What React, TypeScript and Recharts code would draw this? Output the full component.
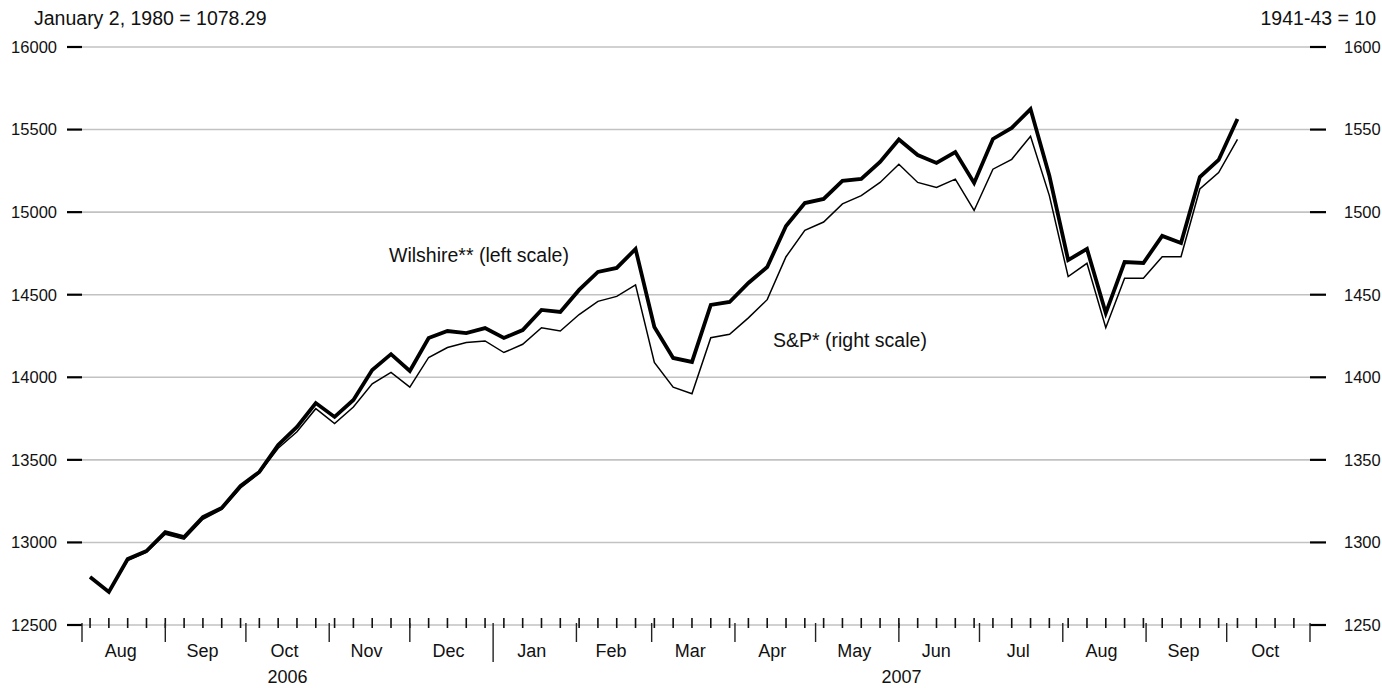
import { CartesianGrid, Line, LineChart, XAxis, YAxis } from "recharts";

// weekly readings (Fridays)
const weeks = [
  "2006-08-04", "2006-08-11", "2006-08-18", "2006-08-25",
  "2006-09-01", "2006-09-08", "2006-09-15", "2006-09-22", "2006-09-29",
  "2006-10-06", "2006-10-13", "2006-10-20", "2006-10-27",
  "2006-11-03", "2006-11-10", "2006-11-17", "2006-11-24",
  "2006-12-01", "2006-12-08", "2006-12-15", "2006-12-22", "2006-12-29",
  "2007-01-05", "2007-01-12", "2007-01-19", "2007-01-26",
  "2007-02-02", "2007-02-09", "2007-02-16", "2007-02-23",
  "2007-03-02", "2007-03-09", "2007-03-16", "2007-03-23", "2007-03-30",
  "2007-04-06", "2007-04-13", "2007-04-20", "2007-04-27",
  "2007-05-04", "2007-05-11", "2007-05-18", "2007-05-25",
  "2007-06-01", "2007-06-08", "2007-06-15", "2007-06-22", "2007-06-29",
  "2007-07-06", "2007-07-13", "2007-07-20", "2007-07-27",
  "2007-08-03", "2007-08-10", "2007-08-17", "2007-08-24", "2007-08-31",
  "2007-09-07", "2007-09-14", "2007-09-21", "2007-09-28",
  "2007-10-05",
];
// week ticks after the last reading
const extraWeeks = ["2007-10-12", "2007-10-19", "2007-10-26"];

const wilshire = [
  12791, 12700, 12900, 12948, 13063, 13033, 13154, 13209, 13342, 13427,
  13590, 13699, 13844, 13760, 13863, 14044, 14140, 14038, 14238, 14280,
  14268, 14298, 14238, 14286, 14408, 14396, 14529, 14638, 14662, 14777,
  14305, 14117, 14093, 14438, 14456, 14571, 14668, 14916, 15055, 15080,
  15189, 15201, 15304, 15440, 15346, 15298, 15364, 15177, 15443, 15510,
  15624, 15220, 14710, 14777, 14389, 14698, 14692, 14856, 14813, 15213,
  15316, 15564,
];
const sp500 = [
  1279, 1270, 1289, 1294, 1305, 1302, 1314, 1320, 1333, 1342,
  1357, 1367, 1381, 1372, 1382, 1396, 1403, 1394, 1412, 1418,
  1421, 1422, 1415, 1420, 1430, 1428, 1438, 1446, 1449, 1456,
  1409, 1394, 1390, 1424, 1426, 1436, 1447, 1473, 1489, 1494,
  1505, 1510, 1518, 1529, 1518, 1515, 1520, 1501, 1526, 1532,
  1546, 1510, 1461, 1469, 1430, 1460, 1460, 1473, 1473, 1514,
  1524, 1544,
];

const leftTicks = [12500, 13000, 13500, 14000, 14500, 15000, 15500, 16000];
const rightTicks = [1250, 1300, 1350, 1400, 1450, 1500, 1550, 1600];

const monthStarts = [
  "2006-08-01", "2006-09-01", "2006-10-01", "2006-11-01", "2006-12-01",
  "2007-01-01", "2007-02-01", "2007-03-01", "2007-04-01", "2007-05-01",
  "2007-06-01", "2007-07-01", "2007-08-01", "2007-09-01", "2007-10-01",
  "2007-11-01",
];
const monthNames = [
  "Aug", "Sep", "Oct", "Nov", "Dec", "Jan", "Feb", "Mar",
  "Apr", "May", "Jun", "Jul", "Aug", "Sep", "Oct",
];
const yearBounds = ["2006-08-01", "2007-01-01", "2007-11-01"];
const yearNames = ["2006", "2007"];

const FONT = "'Liberation Sans', Arial, Helvetica, sans-serif";

const origin = Date.parse(monthStarts[0]);
const day = (s: string) => Math.round((Date.parse(s) - origin) / 86400000);

const data = weeks.map((w, i) => ({ day: day(w), wilshire: wilshire[i], sp: sp500[i] }));

const weekDays = [...weeks, ...extraWeeks].map(day);
const monthDays = monthStarts.map(day);
const yearStart = day(yearBounds[1]);
const endDay = monthDays[monthDays.length - 1];

const monthCenters = monthNames.map((_, i) => (monthDays[i] + monthDays[i + 1]) / 2);
const yearCenters = yearNames.map((_, i) => (day(yearBounds[i]) + day(yearBounds[i + 1])) / 2);

// one axis carries the marks and the labels
const axisTicks = Array.from(
  new Set([...weekDays, ...monthDays, ...monthCenters, ...yearCenters])
).sort((a, b) => a - b);

const AxisTick = (props: any) => {
  const { x, y, payload } = props;
  const v = payload.value;
  const isWeek = weekDays.includes(v);
  const isMonth = monthDays.includes(v);
  const m = monthCenters.indexOf(v);
  const yr = yearCenters.indexOf(v);
  return (
    <g>
      {isWeek && <line x1={x} x2={x} y1={y - 7} y2={y + 3} stroke="#111" strokeWidth={1.6} />}
      {isMonth && (
        <line x1={x} x2={x} y1={y - 2} y2={y + (v === yearStart ? 37 : 17)} stroke="#222" strokeWidth={1.4} />
      )}
      {m >= 0 && (
        <text x={x - 3} y={y + 32} textAnchor="middle" fontFamily={FONT} fontSize={18} fill="#111">
          {monthNames[m]}
        </text>
      )}
      {yr >= 0 && (
        <text x={x} y={y + 58} textAnchor="middle" fontFamily={FONT} fontSize={18} fill="#111">
          {yearNames[yr]}
        </text>
      )}
    </g>
  );
};

export default function App() {
  return (
    <div style={{ position: "relative", width: 1382, height: 688, background: "#fff" }}>
      <style>{"body{margin:0}"}</style>
      <LineChart
        width={1382}
        height={688}
        data={data}
        margin={{ top: 47, right: 0, left: 0, bottom: 0 }}
      >
        <CartesianGrid vertical={false} yAxisId="left" stroke="#c2c2c2" strokeWidth={1.6} />
        <XAxis
          dataKey="day"
          type="number"
          domain={[0, endDay]}
          allowDataOverflow
          ticks={axisTicks}
          interval={0}
          height={63}
          axisLine={false}
          tickLine={false}
          tickSize={0}
          tickMargin={0}
          tick={<AxisTick />}
        />
        <YAxis
          yAxisId="left"
          orientation="left"
          width={82}
          domain={[12500, 16000]}
          ticks={leftTicks}
          interval={0}
          axisLine={false}
          tickLine={{ stroke: "#000", strokeWidth: 2.2 }}
          tickSize={15}
          tickMargin={10}
          tick={{ fill: "#111", fontSize: 16.5, fontFamily: FONT }}
        />
        <YAxis
          yAxisId="right"
          orientation="right"
          width={72}
          domain={[1250, 1600]}
          ticks={rightTicks}
          interval={0}
          axisLine={false}
          tickLine={{ stroke: "#000", strokeWidth: 2.2 }}
          tickSize={16}
          tickMargin={18}
          tick={{ fill: "#111", fontSize: 16.5, fontFamily: FONT }}
        />
        <Line
          yAxisId="right"
          dataKey="sp"
          type="linear"
          stroke="#000"
          strokeWidth={1.5}
          dot={false}
          isAnimationActive={false}
        />
        <Line
          yAxisId="left"
          dataKey="wilshire"
          type="linear"
          stroke="#000"
          strokeWidth={3.8}
          dot={false}
          isAnimationActive={false}
        />
      </LineChart>
      <svg
        width={1382}
        height={688}
        style={{ position: "absolute", left: 0, top: 0, pointerEvents: "none" }}
      >
        <g fontFamily={FONT} fontSize={19.5} fill="#111">
          <text x={34} y={25}>January 2, 1980 = 1078.29</text>
          <text x={1376} y={25} textAnchor="end">1941-43 = 10</text>
          <text x={389} y={262}>Wilshire** (left scale)</text>
          <text x={773} y={347}>S&amp;P* (right scale)</text>
        </g>
      </svg>
    </div>
  );
}
